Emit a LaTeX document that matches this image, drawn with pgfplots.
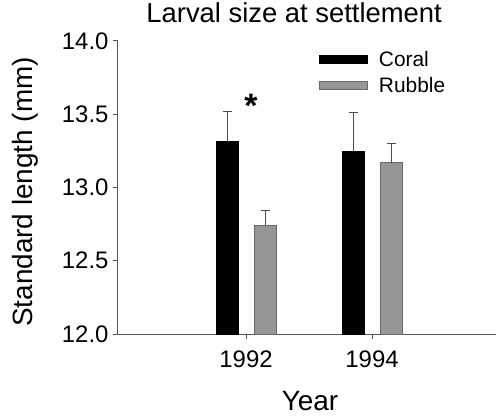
\documentclass[border=0pt]{standalone}
\usepackage{pgfplots}
\pgfplotsset{compat=1.18}
\usepackage{fontspec}
\setmainfont{Liberation Sans}
\definecolor{rubblefill}{RGB}{150,150,150}
\definecolor{rubbleedge}{RGB}{105,105,105}
\definecolor{axisgray}{RGB}{85,85,85}
\begin{document}
\begin{tikzpicture}
\path[use as bounding box] (-118bp,-82bp) rectangle (379bp,334bp);
\begin{axis}[
  at={(0,0)}, anchor=south west,
  scale only axis, width=378bp, height=293bp,
  xmin=-1.016, xmax=1.984, ymin=12, ymax=14,
  axis x line=bottom, axis y line=left,
  axis line style={axisgray, line width=1bp, -},
  tick align=outside, major tick length=5bp,
  tick style={axisgray, line width=1bp},
  xtick={0,1}, xticklabels={1992,1994},
  ytick={12,12.5,13,13.5,14},
  minor tick num=0,
  /pgf/number format/assume math mode=true,
  yticklabel style={/pgf/number format/fixed, /pgf/number format/fixed zerofill, /pgf/number format/precision=1, xshift=-1bp},
  ticklabel style={font=\fontsize{24}{28}\selectfont},
  xticklabel style={anchor=base, yshift=-28bp},
  xlabel={Year},
  xlabel style={font=\fontsize{28}{32}\selectfont, at={(0.508,0)}, anchor=base, yshift=-76bp},
  ylabel={Standard length (mm)},
  ylabel style={font=\fontsize{28}{32}\selectfont, at={(-0.246,0.485)}, anchor=center},
  title={Larval size at settlement},
  title style={font=\fontsize{27.5}{32}\selectfont, at={(0.466,1)}, anchor=base, yshift=13bp},
  legend style={draw=none, fill=none, at={(0.532,1)}, anchor=north west, yshift=-10bp,
    inner sep=0pt, row sep=9.5bp, column sep=11bp,
    nodes={inner sep=0pt, font=\fontsize{21}{25}\selectfont}},
  legend cell align=left,
  legend image code/.code={\draw[#1] (0bp,-4bp) rectangle (48bp,4bp);},
  clip=false,
]
% bar centres: coral 18.5bp left of the year tick, rubble 19.5bp right (126bp per year)
\addplot[ybar, bar width=22bp, bar shift=0pt, fill=black, draw=black, line width=0.6bp,
  error bars/.cd, y dir=plus, y explicit,
  error bar style={black!70, line width=0.9bp},
  error mark options={rotate=90, black!70, line width=0.9bp, mark size=4.5bp}]
  table[x=x, y=y, y error=e] {
x y e
-0.147 13.317 0.205
0.853 13.249 0.260
};
\addplot[ybar, bar width=22bp, bar shift=0pt, fill=rubblefill, draw=rubbleedge, line width=0.6bp,
  error bars/.cd, y dir=plus, y explicit,
  error bar style={black!70, line width=0.9bp},
  error mark options={rotate=90, black!70, line width=0.9bp, mark size=4.5bp}]
  table[x=x, y=y, y error=e] {
x y e
0.155 12.744 0.098
1.155 13.169 0.130
};
\legend{Coral, Rubble}
\node[font=\bfseries\fontsize{34}{36}\selectfont, anchor=base] at (axis cs:0.04,13.481) {*};
\end{axis}
\end{tikzpicture}
\end{document}
